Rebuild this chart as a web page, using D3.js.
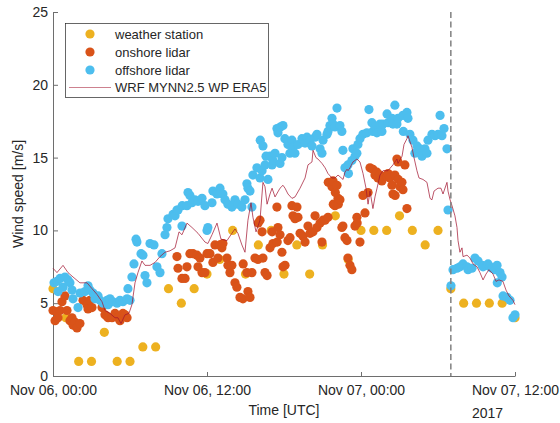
<!DOCTYPE html>
<html>
<head>
<meta charset="utf-8">
<script src="https://cdn.jsdelivr.net/npm/d3@7"></script>
<style>
  html, body { margin: 0; padding: 0; background: #fff; }
  svg { display: block; font-family: "Liberation Sans", Arial, Helvetica, sans-serif; }
</style>
</head>
<body>
<svg id="chart" width="560" height="423"></svg>
<script>
// Hours since 2017-11-06 00:00 UTC and wind speed in m/s.

// Weather station, hourly
const stationHours = [0,1,2,3,4,5,6,7,8,9,10,11,12,13,14,15,16,17,18,19,20,21,22,23,24,25,26,27,28,29,30,31,32,33,34,35,36];
const stationSpeed = [6,4,1,1,3,1,1,2,2,6,5,6,7,8,10,7,9,10,7,9,7,9,11,8,10,10,10,11,10,9,10,6,5,5,5,5,4];

// Onshore lidar
const onshoreHours = [0.00,0.16,0.31,0.39,0.55,0.70,0.93,1.09,1.32,1.48,1.56,1.71,1.87,2.10,2.34,2.65,2.73,2.88,3.04,
  3.82,4.05,4.21,4.29,4.60,4.83,5.06,5.22,5.45,5.61,5.77,
  9.66,9.74,10.05,10.29,10.44,10.67,10.91,11.22,11.30,11.45,11.61,11.84,12.00,12.23,12.46,12.62,12.85,13.01,13.16,13.24,
  13.56,13.63,13.79,13.94,14.18,14.33,14.57,14.80,14.82,15.11,15.19,15.35,15.50,15.74,15.97,15.99,16.13,16.29,16.36,16.52,
  16.68,16.91,17.14,17.07,17.45,17.47,17.53,17.69,17.84,17.92,18.08,18.31,18.47,18.62,18.70,18.86,19.01,19.09,19.25,19.48,
  19.64,19.87,20.03,20.26,20.42,20.57,20.81,20.96,21.04,21.20,21.43,21.45,21.74,21.82,21.84,21.97,22.00,22.13,22.21,22.23,
  22.36,22.51,22.59,22.75,22.91,22.98,23.14,23.29,23.53,23.68,23.70,23.92,24.15,24.31,24.55,24.70,24.93,25.09,25.24,25.32,
  25.48,25.63,25.71,26.03,26.11,26.26,26.41,26.49,26.64,26.66,26.80,26.88,26.90,27.03,27.19,27.27,27.42,27.58];
const onshoreSpeed = [4.5,3.8,4.4,4.0,4.5,5.1,5.5,4.5,3.8,4.0,3.5,3.7,3.3,3.6,5.2,4.9,4.6,5.2,4.7,
  4.7,4.2,4.1,4.0,4.0,4.3,4.0,3.8,4.3,4.2,4.0,
  8.2,7.4,6.7,6.7,7.5,8.4,8.4,8.3,7.5,8.1,7.1,7.1,8.4,8.4,7.8,9.0,8.1,9.0,8.8,9.1,
  8.1,7.6,7.1,7.6,6.4,6.1,5.4,5.3,7.7,7.1,5.8,5.4,7.1,8.1,8.0,10.5,10.7,9.9,8.1,7.1,
  6.9,8.8,9.1,9.9,11.6,9.2,10.2,9.7,8.5,7.5,7.6,9.3,9.5,11.7,11.0,10.8,11.6,10.9,9.8,9.6,
  9.2,10.3,9.8,9.9,11.0,10.2,10.5,9.2,10.7,10.7,10.9,13.3,13.0,13.4,11.8,11.7,12.6,13.1,12.2,11.8,
  12.1,10.2,10.3,9.5,9.3,8.1,7.6,7.3,10.3,10.9,10.5,9.2,12.4,11.2,12.6,14.3,14.2,13.8,14.0,13.6,
  13.8,13.4,13.7,13.7,13.9,13.6,13.1,12.5,13.8,12.4,14.9,14.7,13.5,13.0,13.3,12.8,14.5,11.5];

// Offshore lidar
const offshoreHours = [0.08,0.31,0.39,0.55,0.78,0.93,1.17,1.32,1.48,1.56,1.95,2.10,2.49,2.73,2.88,3.12,3.27,3.51,3.66,3.90,
  4.21,4.29,4.44,4.67,4.99,5.22,5.45,5.77,5.84,6.00,6.15,6.31,6.47,6.54,6.86,7.01,7.17,7.32,7.56,7.87,
  8.10,8.34,8.49,8.73,8.88,8.96,9.35,9.51,9.66,9.74,10.05,10.07,10.44,10.52,10.67,10.83,11.06,11.30,11.61,11.84,
  12.00,12.07,12.39,12.46,12.78,13.01,13.24,13.40,13.63,13.94,14.18,14.41,14.72,14.96,15.11,15.19,15.35,15.50,15.58,15.89,
  16.13,16.15,16.29,16.36,16.52,16.60,16.75,16.91,17.07,17.14,17.30,17.45,17.53,17.69,17.71,17.84,17.92,18.07,18.31,18.46,
  18.62,18.70,18.85,19.09,19.40,19.64,19.79,20.03,20.18,20.42,20.57,20.81,20.96,21.04,21.35,21.43,21.58,21.74,21.82,21.97,
  22.13,22.36,22.51,22.59,22.75,22.98,23.02,23.29,23.37,23.53,23.68,23.76,23.92,24.15,24.46,24.62,24.85,24.93,25.09,25.24,
  25.48,25.63,25.71,26.03,26.11,26.41,26.49,26.64,26.80,26.88,27.27,27.30,27.58,27.66,27.81,28.05,28.20,28.36,28.59,28.75,
  28.98,29.14,29.22,29.53,29.77,30.00,30.16,30.31,30.47,30.70,30.78,
  31.01,31.17,31.48,31.71,31.95,32.26,32.34,32.65,32.88,33.12,33.43,33.51,33.82,33.90,34.05,34.21,34.44,34.60,34.62,34.83,
  34.99,35.07,35.38,35.61,35.84,36.00];
const offshoreSpeed = [6.4,6.5,5.8,6.7,6.1,6.8,6.6,6.4,5.9,5.3,4.7,5.7,5.8,6.2,5.9,5.7,5.3,5.5,5.2,5.0,
  5.2,4.9,5.3,5.1,5.0,5.2,5.1,5.3,6.0,5.2,6.8,7.7,9.4,9.2,8.4,8.3,6.9,6.4,9.1,9.0,
  7.5,7.1,8.4,9.7,10.2,10.8,11.1,11.0,11.4,11.4,10.3,11.7,11.7,12.6,12.4,11.9,12.1,12.0,12.2,11.7,
  10.0,10.2,11.9,12.7,12.5,12.9,12.5,12.1,11.8,11.6,12.1,11.8,11.6,12.1,13.2,12.9,12.7,11.6,13.8,14.3,
  13.6,16.2,14.1,15.8,14.5,15.1,13.5,15.1,14.5,14.8,15.3,17.0,16.7,14.6,17.1,15.0,17.2,16.3,15.9,15.3,
  16.2,15.7,15.3,15.9,16.3,16.0,16.4,16.2,15.8,16.4,16.6,15.6,15.3,16.2,16.6,16.8,17.2,17.7,17.3,17.1,
  18.4,17.2,16.8,15.5,14.3,14.5,13.9,14.8,15.6,15.1,15.3,15.9,16.3,16.6,16.7,18.3,17.4,16.8,17.1,16.7,
  17.3,16.8,17.3,18.0,17.4,17.7,17.3,18.6,17.3,17.7,17.9,16.8,18.1,17.7,16.6,16.2,15.3,15.8,15.6,15.1,
  15.6,15.3,16.2,16.6,16.5,16.6,17.9,16.5,17.0,15.6,11.4,
  6.2,7.3,7.4,7.5,7.7,7.5,7.3,7.4,8.1,7.9,7.6,7.5,7.6,7.7,7.5,7.4,7.3,7.6,6.4,7.1,
  6.8,5.5,5.4,5.2,4.0,4.2];

// WRF MYNN2.5 WP ERA5 model run
const wrfHours = [0,0.31,0.78,1.17,1.56,2.10,2.65,3.04,3.43,3.82,4.05,4.44,4.83,5.06,5.30,5.61,5.92,6.15,6.39,6.62,
  6.93,7.17,7.56,7.95,8.34,8.73,9.12,9.51,9.82,10.05,10.44,10.83,11.30,11.84,12.07,12.39,12.78,13.09,13.56,13.94,
  14.18,14.41,14.72,14.96,15.19,15.43,15.58,15.82,16.13,16.36,16.52,16.68,16.91,17.07,17.30,17.69,17.92,18.08,18.31,18.62,
  18.86,19.25,19.64,19.87,20.18,20.26,20.49,20.65,20.96,21.20,21.43,21.74,21.97,22.21,22.60,22.75,22.91,22.99,23.14,23.37,
  23.68,23.92,24.16,24.39,24.55,24.70,24.93,25.09,25.25,25.48,25.71,26.10,26.49,26.80,26.88,27.20,27.35,27.58,27.66,27.97,
  28.13,28.36,28.52,28.83,29.14,29.38,29.53,29.69,30.00,30.23,30.39,30.70,30.78,30.94,31.09,31.32,31.48,31.56,31.71,31.87,
  31.95,32.26,32.49,32.73,33.04,33.27,33.51,33.74,33.97,34.29,34.52,34.75,35.06,35.30,35.53,35.84,36.00];
const wrfSpeed = [7.4,7.1,7.6,7.1,6.8,6.4,6.4,6.0,5.6,5.1,4.5,4.3,4.0,4.0,3.6,4.2,4.3,4.9,6.4,7.1,
  7.9,7.6,7.6,7.8,8.2,8.5,8.6,8.8,9.9,9.7,10.5,10.2,9.8,9.2,9.1,9.7,10.5,9.4,9.3,9.8,
  10.1,9.8,9.0,8.5,10.7,11.9,10.9,9.9,10.7,13.3,13.0,11.8,12.5,12.9,12.3,12.9,13.1,12.9,12.5,12.2,
  12.3,12.9,13.6,14.5,14.7,15.5,15.0,14.9,14.6,14.3,13.9,13.6,13.6,13.8,13.5,14.0,14.2,14.1,14.3,14.7,
  14.9,14.7,13.9,12.9,11.8,12.7,11.5,12.3,12.9,13.8,14.1,14.1,14.5,14.9,14.6,15.1,15.9,16.3,16.5,15.7,
  15.0,14.1,13.6,13.5,13.3,12.2,12.1,12.7,12.9,12.9,12.5,13.3,12.7,12.1,11.7,11.0,10.2,9.3,8.5,8.8,
  8.2,8.3,8.1,7.7,7.5,7.1,6.6,7.0,7.3,7.0,6.5,6.6,6.5,5.9,5.5,5.2,4.9];

// Time of the vertical marker line
const markerHour = 31;

// Axis ticks
const xTickHours = [0, 12, 24, 36];
const xTickLabels = ["Nov 06, 00:00", "Nov 06, 12:00", "Nov 07, 00:00", "Nov 07, 12:00"];
const yTicks = [0, 5, 10, 15, 20, 25];

const seriesNames = ["weather station", "onshore lidar", "offshore lidar", "WRF MYNN2.5 WP ERA5"];
const colors = { station: "#EDB120", onshore: "#D95319", offshore: "#4DBEEE", wrf: "#A2142F" };

const t0 = Date.UTC(2017, 10, 6, 0, 0);
const toDate = h => new Date(t0 + h * 3600e3);
const zip = (hs, vs) => hs.map((h, i) => ({ t: toDate(h), v: vs[i] }));

const svg = d3.select("#chart");
const ink = "#262626";

const x = d3.scaleUtc().domain([toDate(0), toDate(36)]).range([53, 515]);
const y = d3.scaleLinear().domain([0, 25]).range([376, 12]);

// Axes (MATLAB-like: ticks pointing inward, no box)
const xAxis = d3.axisBottom(x)
  .tickValues(xTickHours.map(toDate))
  .tickFormat((d, i) => xTickLabels[i])
  .tickSizeInner(-4).tickSizeOuter(0).tickPadding(9);
const gx = svg.append("g").attr("transform", "translate(0,376)").call(xAxis);

const yAxis = d3.axisLeft(y)
  .tickValues(yTicks)
  .tickSizeInner(-5).tickSizeOuter(0).tickPadding(5);
const gy = svg.append("g").attr("transform", "translate(53,0)").call(yAxis);

[gx, gy].forEach(g => {
  g.select(".domain").attr("stroke", "#6e6e6e").attr("stroke-width", 1);
  g.selectAll(".tick line").attr("stroke", "#6e6e6e").attr("stroke-width", 1);
  g.selectAll(".tick text").attr("fill", ink).style("font-size", "14px")
    .style("font-family", "'Liberation Sans', Arial, Helvetica, sans-serif");
});

// Year label under the last date tick
svg.append("text").attr("x", x(toDate(36)) - 43).attr("y", 418)
  .attr("fill", ink).style("font-size", "14px").text("2017");

// Axis titles
svg.append("text").attr("x", 284).attr("y", 415).attr("text-anchor", "middle")
  .attr("fill", ink).style("font-size", "14px").text("Time [UTC]");
svg.append("text").attr("transform", "translate(23,194) rotate(-90)")
  .attr("text-anchor", "middle").attr("fill", ink).style("font-size", "14px")
  .text("Wind speed [m/s]");

const r = 4.6;
const plot = svg.append("g");

plot.append("g").selectAll("circle").data(zip(stationHours, stationSpeed)).join("circle")
  .attr("cx", d => x(d.t)).attr("cy", d => y(d.v)).attr("r", r).attr("fill", colors.station);

plot.append("g").selectAll("circle").data(zip(onshoreHours, onshoreSpeed)).join("circle")
  .attr("cx", d => x(d.t)).attr("cy", d => y(d.v)).attr("r", r).attr("fill", colors.onshore);

plot.append("g").selectAll("circle").data(zip(offshoreHours, offshoreSpeed)).join("circle")
  .attr("cx", d => x(d.t)).attr("cy", d => y(d.v)).attr("r", r).attr("fill", colors.offshore);

const line = d3.line().x(d => x(d.t)).y(d => y(d.v));
plot.append("path").datum(zip(wrfHours, wrfSpeed))
  .attr("d", line).attr("fill", "none")
  .attr("stroke", colors.wrf).attr("stroke-width", 0.9).attr("stroke-opacity", 0.8);

// Vertical dashed marker
plot.append("line")
  .attr("x1", x(toDate(markerHour))).attr("x2", x(toDate(markerHour)))
  .attr("y1", y(25)).attr("y2", y(0))
  .attr("stroke", "#808080").attr("stroke-width", 1.5).attr("stroke-dasharray", "6,3.5");

// Legend
const lg = svg.append("g");
lg.append("rect").attr("x", 65.5).attr("y", 23.5).attr("width", 203).attr("height", 74)
  .attr("fill", "#fff").attr("stroke", ink).attr("stroke-width", 0.7);
const rowsY = [34, 52, 70, 87.5];
const markerColors = [colors.station, colors.onshore, colors.offshore];
markerColors.forEach((c, i) => {
  lg.append("circle").attr("cx", 90).attr("cy", rowsY[i]).attr("r", r).attr("fill", c);
});
lg.append("line").attr("x1", 69).attr("x2", 111).attr("y1", rowsY[3]).attr("y2", rowsY[3])
  .attr("stroke", colors.wrf).attr("stroke-width", 0.9).attr("stroke-opacity", 0.6);
seriesNames.forEach((name, i) => {
  lg.append("text").attr("x", 115).attr("y", rowsY[i] + 4.8)
    .attr("fill", ink).style("font-size", "13px").text(name);
});
</script>
</body>
</html>
